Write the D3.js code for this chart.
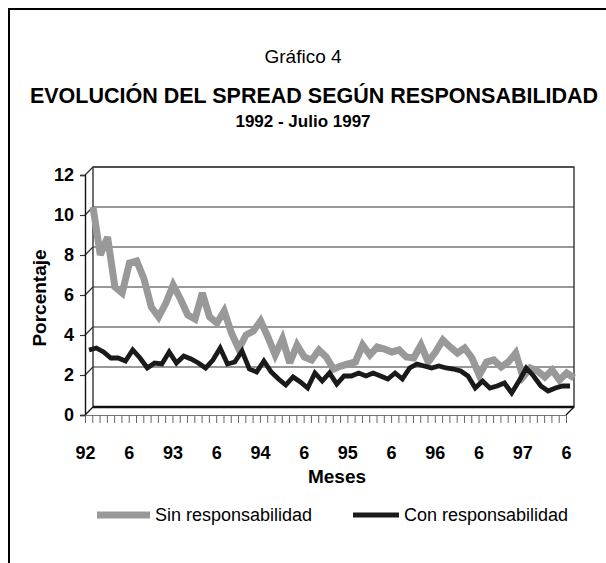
<!DOCTYPE html>
<html>
<head>
<meta charset="utf-8">
<script src="https://cdn.jsdelivr.net/npm/d3@7"></script>
<style>
  body { margin: 0; background: #fff; }
  svg { display: block; font-family: "Liberation Sans", Arial, sans-serif; }
</style>
</head>
<body>
<div id="chart"></div>
<script>
// Datos: spread mensual (%) enero 1992 - julio 1997
const mesLabels = ["92", "6", "93", "6", "94", "6", "95", "6", "96", "6", "97", "6"];
const yTicks = [0, 2, 4, 6, 8, 10, 12];

const sinResp = [
  10.0, 7.6, 8.5, 6.0, 5.7, 7.2, 7.3, 6.4, 5.0, 4.5, 5.2, 6.1,
  5.4, 4.6, 4.4, 5.7, 4.5, 4.2, 4.8, 3.7, 2.9, 3.6, 3.8, 4.3,
  3.5, 2.6, 3.4, 2.2, 3.1, 2.5, 2.35, 2.85, 2.5, 1.9, 2.05, 2.15,
  2.25, 3.1, 2.6, 3.0, 2.9, 2.75, 2.85, 2.5, 2.45, 3.1, 2.25, 2.75,
  3.35, 3.0, 2.7, 2.95, 2.45, 1.6, 2.25, 2.35, 2.0, 2.25, 2.7, 1.5,
  1.95, 1.8, 1.5, 1.85, 1.35, 1.7, 1.45
];

const conResp = [
  3.05, 3.15, 2.95, 2.65, 2.65, 2.5, 3.05, 2.65, 2.15, 2.4, 2.35, 2.95,
  2.4, 2.75, 2.6, 2.4, 2.15, 2.55, 3.15, 2.35, 2.45, 3.0, 2.1, 1.95,
  2.5, 1.95, 1.6, 1.3, 1.7, 1.45, 1.15, 1.9, 1.5, 1.9, 1.35, 1.75,
  1.75, 1.9, 1.75, 1.9, 1.75, 1.6, 1.9, 1.6, 2.15, 2.35, 2.25, 2.15,
  2.25, 2.15, 2.1, 2.0, 1.75, 1.15, 1.5, 1.15, 1.25, 1.4, 0.9, 1.5,
  2.15, 1.75, 1.25, 1.0, 1.15, 1.25, 1.25
];

const width = 606;
const height = 563;
const depth = 8; // profundidad del efecto 3D

const svg = d3.select("#chart")
  .append("svg")
  .attr("width", width)
  .attr("height", height);

// Marco
svg.append("rect")
  .attr("x", 9).attr("y", 9)
  .attr("width", 640).attr("height", 620)
  .attr("fill", "none")
  .attr("stroke", "#000")
  .attr("stroke-width", 2);

// Títulos
svg.append("text")
  .attr("x", 303).attr("y", 63)
  .attr("text-anchor", "middle")
  .style("font-size", "19px")
  .text("Gráfico 4");

svg.append("text")
  .attr("x", 314).attr("y", 103)
  .attr("text-anchor", "middle")
  .style("font-size", "21.5px")
  .style("font-weight", "bold")
  .text("EVOLUCIÓN DEL SPREAD SEGÚN RESPONSABILIDAD");

svg.append("text")
  .attr("x", 303).attr("y", 127)
  .attr("text-anchor", "middle")
  .style("font-size", "17px")
  .style("font-weight", "bold")
  .text("1992 - Julio 1997");

// Escalas (plano frontal)
const x = d3.scaleLinear().domain([0, sinResp.length - 1]).range([85, 566]);
const y = d3.scaleLinear().domain([0, 12]).range([415, 175]);

const x0 = x.range()[0], x1 = x.range()[1];
const yTop = y(12), yBot = y(0);

const walls = svg.append("g");

// Pared de fondo
walls.append("rect")
  .attr("x", x0 + depth).attr("y", yTop - depth)
  .attr("width", x1 - x0).attr("height", yBot - yTop)
  .attr("fill", "#fff")
  .attr("stroke", "#222")
  .attr("stroke-width", 1.3);

// Grilla (pared de fondo + pared lateral)
yTicks.filter((d) => d > 0).forEach((d) => {
  walls.append("line")
    .attr("x1", x0 + depth).attr("x2", x1 + depth)
    .attr("y1", y(d) - depth).attr("y2", y(d) - depth)
    .attr("stroke", "#333")
    .attr("stroke-width", 1.2);
  walls.append("line")
    .attr("x1", x0).attr("x2", x0 + depth)
    .attr("y1", y(d)).attr("y2", y(d) - depth)
    .attr("stroke", "#333")
    .attr("stroke-width", 1.2);
});

// Piso
walls.append("line")
  .attr("x1", x0 + depth).attr("x2", x1 + depth)
  .attr("y1", yBot - depth).attr("y2", yBot - depth)
  .attr("stroke", "#111")
  .attr("stroke-width", 2.6);
walls.append("line")
  .attr("x1", x0).attr("x2", x0 + depth)
  .attr("y1", yBot).attr("y2", yBot - depth)
  .attr("stroke", "#111")
  .attr("stroke-width", 1.3);
walls.append("line")
  .attr("x1", x1).attr("x2", x1 + depth)
  .attr("y1", yBot).attr("y2", yBot - depth)
  .attr("stroke", "#111")
  .attr("stroke-width", 1.3);

// Eje Y
const yAxis = svg.append("g")
  .attr("transform", `translate(${x0},0)`)
  .call(d3.axisLeft(y).tickValues(yTicks).tickSize(5).tickPadding(6));
yAxis.select(".domain").attr("stroke", "#111").attr("stroke-width", 1.4);
yAxis.selectAll(".tick line").attr("stroke", "#333").attr("stroke-width", 1.2);
yAxis.selectAll(".tick text")
  .attr("fill", "#000")
  .style("font-size", "18px")
  .style("font-weight", "bold")
  .style("font-family", "'Liberation Sans', Arial, sans-serif");

// Eje X
const xAxis = svg.append("g")
  .attr("transform", `translate(0,${yBot})`)
  .call(
    d3.axisBottom(x)
      .tickValues(d3.range(sinResp.length))
      .tickSize(8)
      .tickSizeOuter(0)
      .tickPadding(23)
      .tickFormat((i) => (i % 6 === 0 ? mesLabels[i / 6] : ""))
  );
xAxis.select(".domain").attr("stroke", "#777").attr("stroke-width", 1);
xAxis.selectAll(".tick line").attr("stroke", "#666").attr("stroke-width", 1);
xAxis.selectAll(".tick text")
  .attr("fill", "#000")
  .style("font-size", "18px")
  .style("font-weight", "bold")
  .style("font-family", "'Liberation Sans', Arial, sans-serif");

// Títulos de ejes
svg.append("text")
  .attr("x", 337).attr("y", 483)
  .attr("text-anchor", "middle")
  .style("font-size", "19px")
  .style("font-weight", "bold")
  .text("Meses");

svg.append("text")
  .attr("transform", "translate(46,298) rotate(-90)")
  .attr("text-anchor", "middle")
  .style("font-size", "19px")
  .style("font-weight", "bold")
  .text("Porcentaje");

// Series
const series = [
  { name: "Sin responsabilidad", values: sinResp, color: "#999999", width: 7, dz: 8 },
  { name: "Con responsabilidad", values: conResp, color: "#1a1a1a", width: 4.8, dz: 4 },
];

series.forEach((s) => {
  const line = d3.line()
    .x((d, i) => x(i) + s.dz)
    .y((d) => y(d) - s.dz)
    .curve(d3.curveLinear);

  svg.append("path")
    .datum(s.values)
    .attr("d", line)
    .attr("fill", "none")
    .attr("stroke", s.color)
    .attr("stroke-width", s.width)
    .attr("stroke-linejoin", "miter")
    .attr("stroke-miterlimit", 3);
});

// Leyenda
const legend = svg.append("g").attr("transform", "translate(0,515)");
const legendItems = [
  { s: series[0], x1: 97, x2: 150, tx: 155 },
  { s: series[1], x1: 353, x2: 399, tx: 404 },
];
legendItems.forEach((d) => {
  legend.append("line")
    .attr("x1", d.x1).attr("x2", d.x2)
    .attr("y1", 0).attr("y2", 0)
    .attr("stroke", d.s.color)
    .attr("stroke-width", d.s.width);
  legend.append("text")
    .attr("x", d.tx).attr("y", 6)
    .style("font-size", "18px")
    .text(d.s.name);
});
</script>
</body>
</html>
